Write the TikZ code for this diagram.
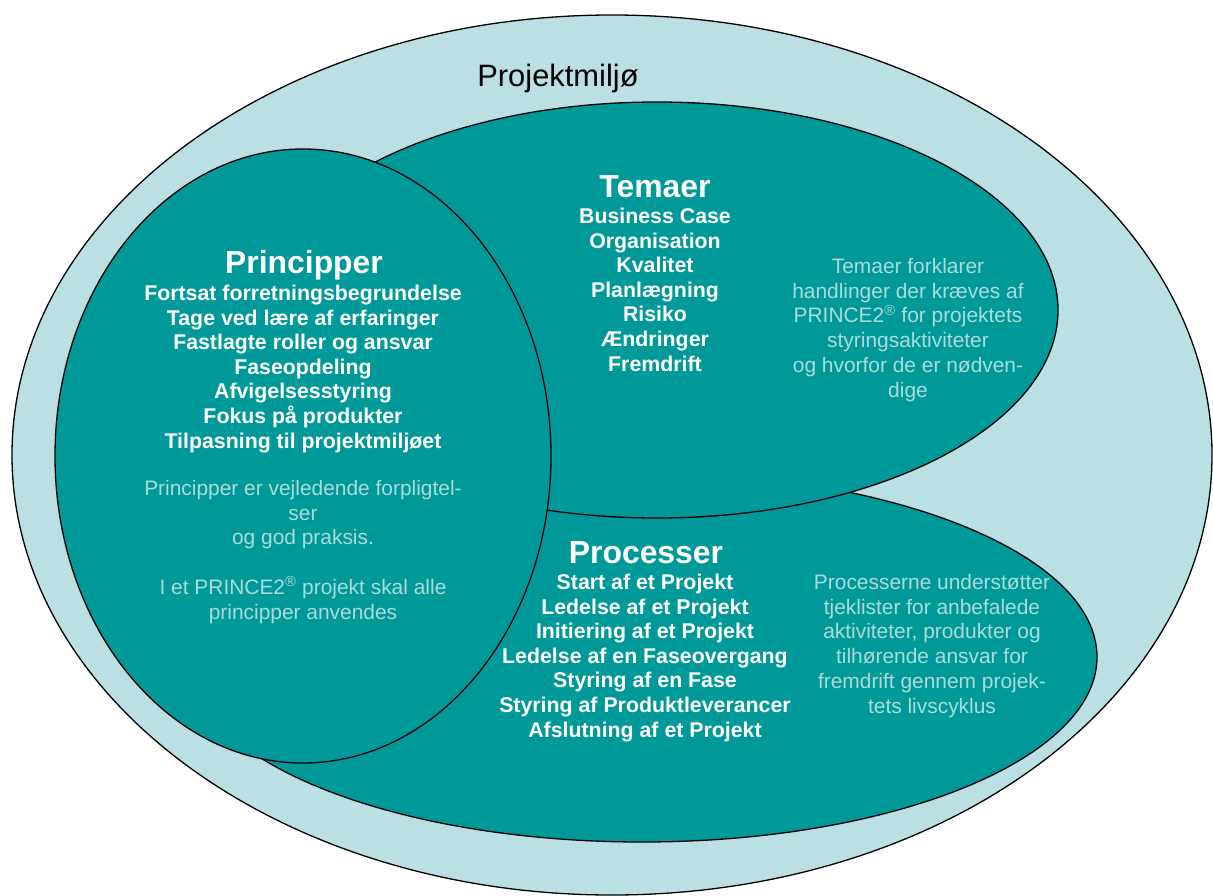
\documentclass[tikz,border=0pt]{standalone}
\usepackage{fontspec}
\setmainfont{Liberation Sans}
\usepackage{xcolor}
\usetikzlibrary{shapes.geometric, positioning}
\definecolor{miljoblue}{RGB}{187,224,227}
\definecolor{prteal}{RGB}{0,153,153}
\definecolor{prnote}{RGB}{170,218,218}

\begin{document}
\begin{tikzpicture}[x=1bp, y=-1bp]
\tikzstyle{zone} = [ellipse, draw=black, line width=1.3bp, fill=prteal, inner sep=0pt]
\tikzstyle{heading} = [text=white, font=\fontsize{32}{36}\selectfont\bfseries, inner sep=0pt, anchor=base]
\tikzstyle{items} = [text=white, font=\fontsize{21.4}{24.6}\selectfont\bfseries, align=center, inner sep=0pt, anchor=base]
\tikzstyle{note} = [text=prnote, font=\fontsize{21}{24.8}\selectfont, align=center, inner sep=0pt, anchor=base]

\useasboundingbox (0,0) rectangle (1213,896);
\fill[white] (0,0) rectangle (1213,896);

% the four areas, back to front
\node (miljo) [zone, fill=miljoblue, minimum width=1200bp, minimum height=880bp] at (612,455) {};
\node (processer) [zone, minimum width=910bp, minimum height=370bp] at (642,657) {};
\node (temaer) [zone, minimum width=802bp, minimum height=416bp] at (657,310) {};
\node (principper) [zone, minimum width=496bp, minimum height=614bp] at (303,456) {};

\node (miljotitle) [anchor=base, inner sep=0pt, font=\fontsize{31}{34}\selectfont] at (558,86) {Projektmiljø};

% Temaer (base = last line)
\node (temaertitle) [heading] at (655,197) {Temaer};
\node (temaerlist) [items] at (655,371) {Business Case\\Organisation\\Kvalitet\\Planlægning\\Risiko\\Ændringer\\Fremdrift};
\node (temaernote) [note] at (908,397) {Temaer forklarer\\handlinger der kræves af\\PRINCE2\textsuperscript{®} for projektets\\styringsaktiviteter\\og hvorfor de er nødven-\\dige};

% Principper
\node (printitle) [heading] at (304,273) {Principper};
\node (prinlist) [items] at (303,448) {Fortsat forretningsbegrundelse\\Tage ved lære af erfaringer\\Fastlagte roller og ansvar\\Faseopdeling\\Afvigelsesstyring\\Fokus på produkter\\Tilpasning til projektmiljøet};
\node (prinnote) [note] at (303,619) {Principper er vejledende forpligtel-\\ser\\og god praksis.\\[24.8bp]I et PRINCE2\textsuperscript{®} projekt skal alle\\principper anvendes};

% Processer
\node (proctitle) [heading] at (646,563) {Processer};
\node (proclist) [items] at (645,737) {Start af et Projekt\\Ledelse af et Projekt\\Initiering af et Projekt\\Ledelse af en Faseovergang\\Styring af en Fase\\Styring af Produktleverancer\\Afslutning af et Projekt};
\node (procnote) [note] at (932,713) {Processerne understøtter\\tjeklister for anbefalede\\aktiviteter, produkter og\\tilhørende ansvar for\\fremdrift gennem projek-\\tets livscyklus};

\end{tikzpicture}
\end{document}
